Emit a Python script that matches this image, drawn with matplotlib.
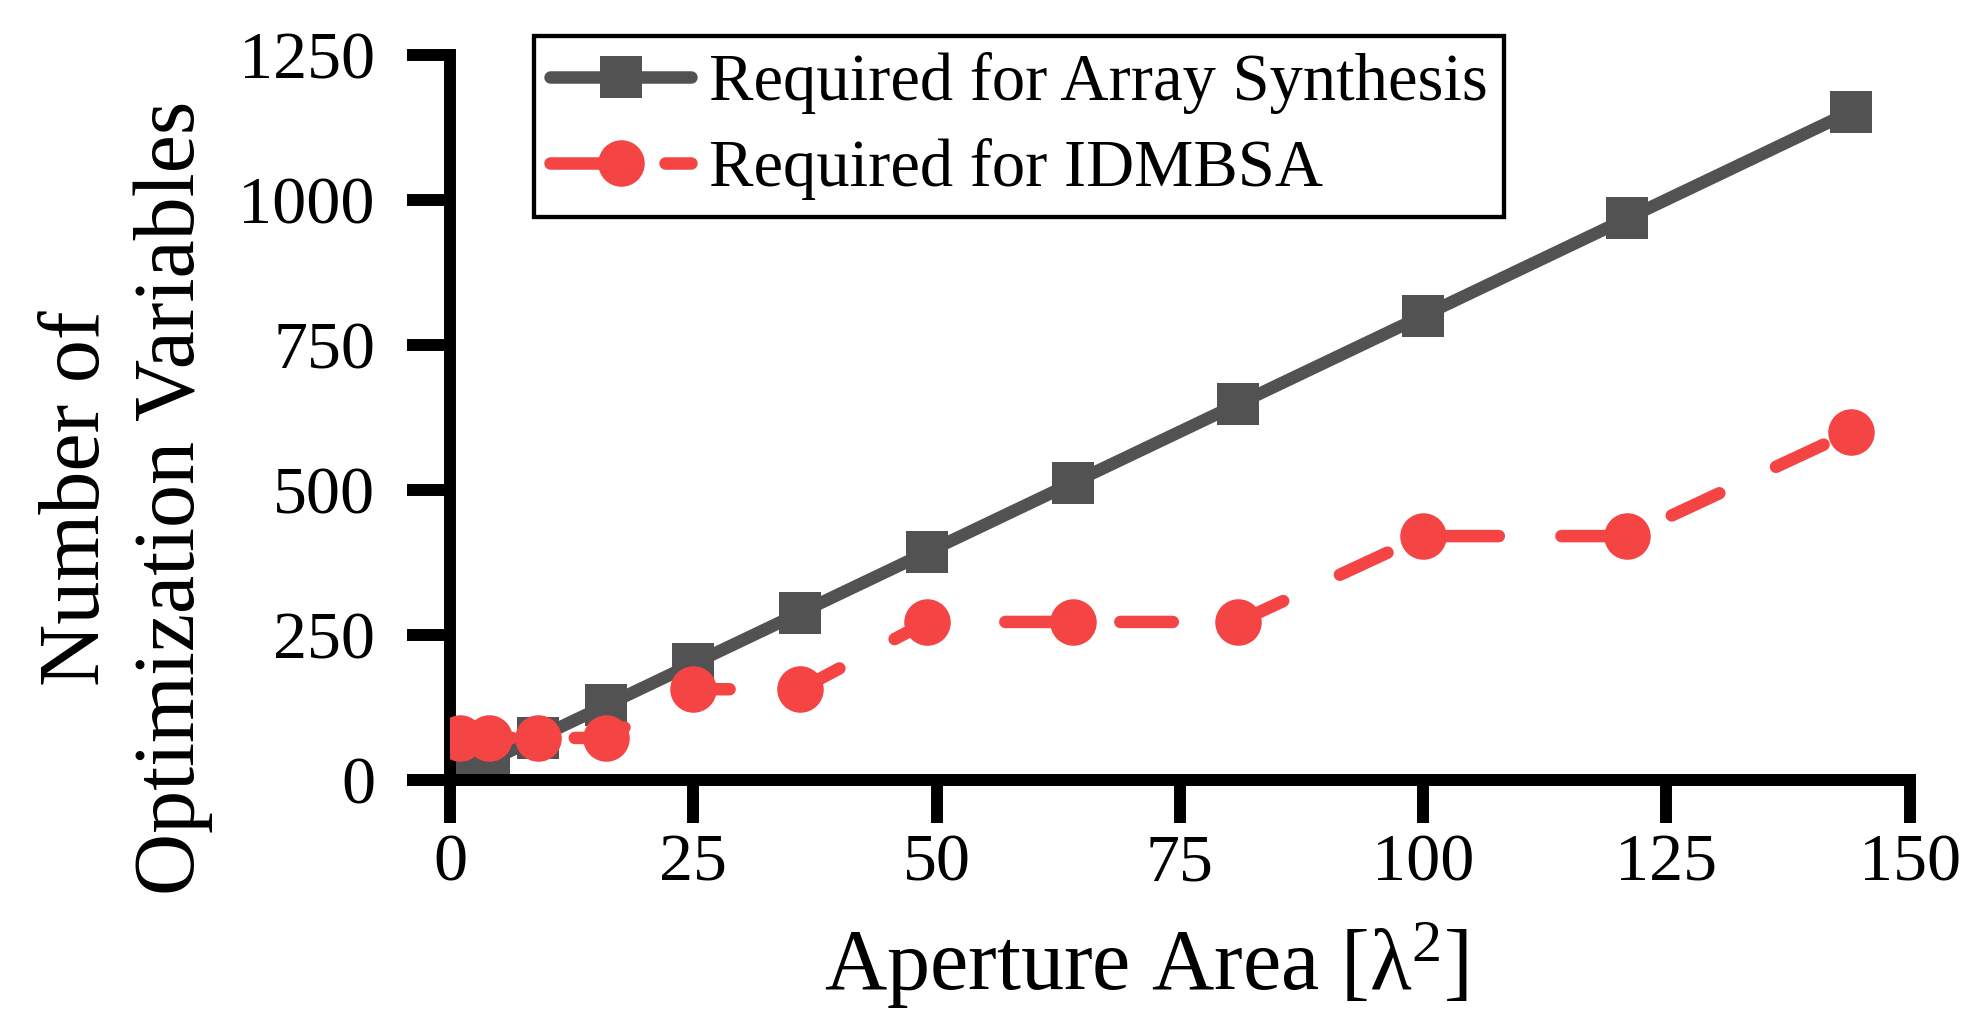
import numpy as np
import matplotlib
matplotlib.use("Agg")
import matplotlib.pyplot as plt

plt.rcParams['font.family'] = ['Liberation Serif', 'DejaVu Serif']
plt.rcParams['mathtext.fontset'] = 'custom'
plt.rcParams['mathtext.rm'] = 'Liberation Serif'

# aperture area in lambda^2 (1x1 ... 12x12)
area = [1, 4, 9, 16, 25, 36, 49, 64, 81, 100, 121, 144]
n_array_synthesis = [8, 32, 72, 128, 200, 288, 392, 512, 648, 800, 968, 1152]
n_idmbsa = [72, 72, 72, 72, 156, 156, 272, 272, 272, 420, 420, 600]

x_ticks = [0, 25, 50, 75, 100, 125, 150]
y_ticks = [0, 250, 500, 750, 1000, 1250]

gray = '#525252'
red = '#f54444'

W, H = 1971, 1023
fig = plt.figure(figsize=(W / 100, H / 100), dpi=100)
ax = fig.add_axes([450 / W, 1 - 779.7 / H, 1459.7 / W, 725 / H])

ax.plot(area, n_array_synthesis, color=gray, lw=9, marker='s', ms=30.7, mew=0,
        solid_capstyle='round', label='Required for Array Synthesis', zorder=2)
ax.plot(area, n_idmbsa, color=red, lw=9, marker='o', ms=33.5, mew=0,
        linestyle=(0, (4.2, 5.0)), dash_capstyle='round',
        label='Required for IDMBSA', zorder=3)

ax.set_xlim(0, 150)
ax.set_ylim(0, 1250)
ax.set_xticks(x_ticks)
ax.set_yticks(y_ticks)

for side in ['top', 'right']:
    ax.spines[side].set_visible(False)
for side in ['left', 'bottom']:
    ax.spines[side].set_linewidth(8.6)
ax.tick_params(axis='both', which='major', direction='out', length=31, width=8.6,
               labelsize=49, color='black')
ax.tick_params(axis='x', pad=8)
ax.tick_params(axis='y', pad=23)

ax.set_xlabel('Aperture Area [λ$\\mathregular{^2}$]', fontsize=62)
ax.xaxis.label.set(va='baseline', ha='center')
ax.xaxis.set_label_coords((1146 - 450) / 1459.7, (779.7 - 990) / 725)

ax.set_ylabel('Number of\nOptimization Variables', fontsize=62, linespacing=1.25)
ax.yaxis.label.set(va='center', ha='center', multialignment='center')
ax.yaxis.set_label_coords((125.7 - 450) / 1459.7, (779.7 - 498) / 725)

leg = ax.legend(loc='upper left', bbox_to_anchor=(533.8 / W, 1 - 35.5 / H),
                bbox_transform=fig.transFigure, borderaxespad=0,
                fontsize=48, handlelength=2.11, handletextpad=0.265,
                borderpad=0.25, labelspacing=0.355, fancybox=False,
                framealpha=1, edgecolor='black')
leg.get_frame().set_linewidth(3.1)

fig.savefig('out.png', dpi=100)
